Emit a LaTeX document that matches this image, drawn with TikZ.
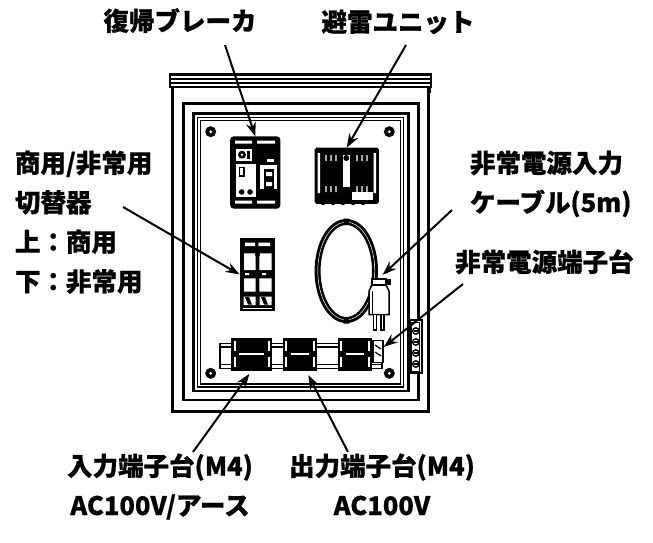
\documentclass[tikz,border=0pt]{standalone}
\usepackage{fontspec}
\newfontfamily\jpfont{Noto Sans CJK JP}[BoldFeatures={FakeBold=0.6}]
\usetikzlibrary{positioning, arrows.meta}
\tikzset {
    >={Stealth[length=14pt, width=10pt]},
    node distance=39.5pt,
    lbl/.style={font=\jpfont\bfseries\fontsize{25.5}{27}\selectfont, inner sep=0pt, text height=22pt, text depth=3pt},
    lblL/.style={lbl, text width=140pt, align=left},
    lblR/.style={lbl, text width=175pt, align=left},
    frame/.style={line width=2.4pt},
    part/.style={draw, fill=black, inner sep=0pt, line width=1.2pt},
    pointer/.style={->, line width=2pt}
}

\begin{document}
\begin{tikzpicture}[x=1pt, y=-1pt]
    \useasboundingbox (0,0) rectangle (653,543);
    \fill[white] (0,0) rectangle (653,543);

    % cabinet
    \draw[frame] (170,74.5) rectangle (431,87);
    \draw[line width=1.5pt] (170,79) -- (431,79) (170,83) -- (431,83);
    \draw[frame] (429.5,87) -- (429.5,93);
    \draw[frame] (172.5,87) -- (172.5,411.5) -- (428.5,411.5) -- (428.5,87);
    \draw[frame] (183.3,103.3) rectangle (418.3,400);
    \draw[frame] (193.3,113.3) rectangle (408.3,390.7);
    \draw[line width=1.6pt] (197.3,117.3) rectangle (403.3,386.7);
    \draw[line width=1.6pt] (200.3,120.3) rectangle (400.5,383.8);

    \foreach \x/\y in {210.7/131.7, 389.3/131.7, 210.7/373.3, 389.3/373.3} {
        \fill (\x,\y) circle (5.5);
        \fill[white] (\x,\y) circle (1.6);
    }

    % breaker
    \node[part, rounded corners=3pt, minimum width=49pt, minimum height=71pt] (brk) at (255.3,172.5) {};
    \fill[white] (235,140.5) rectangle (252,143.5) (257,140.5) rectangle (275,143.5);
    \fill[white] (235,200.5) rectangle (252,203.5) (257,200.5) rectangle (275,203.5);
    \fill[white] (235.5,149) rectangle (251.5,160.5);
    \fill (242,154.7) circle (4);
    \fill[white] (242,154.7) circle (1.3);
    \fill (246.5,151) rectangle (250,158.5);
    \fill[white] (266.5,159) rectangle (273.5,161.5);
    \fill[white] (236,163.5) rectangle (256,196.5);
    \draw[line width=1.4pt] (239.5,167.5) rectangle (244,176);
    \fill (241.7,192) circle (2.8) (250,192) circle (2.8);
    \fill[white] (260,165) rectangle (277,189);
    \fill (264,168.5) rectangle (274,193);
    \fill[white] (266,172) rectangle (272,176) (266,182) rectangle (272,186);

    % surge unit
    \node[part, rounded corners=1.5pt, minimum width=63pt, minimum height=55pt] (spd) at (346.7,175.8) {};
    \fill[white] (317.5,153) rectangle (320,193) (373.5,153) rectangle (376,193);
    \foreach \x in {326,331,336,357,362,367} {
        \fill[white] (\x-0.6,155) rectangle (\x+0.6,161) (\x-0.6,186) rectangle (\x+0.6,192);
    }
    \fill[white] (342.7,155) rectangle (350,186.7);
    \fill (346.3,158) circle (3);
    \fill[white] (352,191.5) rectangle (373,199.5);
    \foreach \x in {323,333,343,353,363} \fill (\x,203.3) circle (2);

    % selector switch
    \node[part, minimum width=34pt, minimum height=72pt] (sw) at (257.2,274.5) {};
    \fill[white] (245,242.7) rectangle (255,246) (258.3,242.7) rectangle (270,246);
    \fill[white] (244,253.3) rectangle (255.7,270) (259.3,253.3) rectangle (271.7,270);
    \fill (257.5,254.5) circle (2.5);
    \fill[white] (245,273) rectangle (249,275) (262,273) rectangle (266,275);
    \fill[white] (244,278.3) rectangle (255.7,291.7) (259.3,278.3) rectangle (271.7,291.7);
    \fill[white] (243.5,296.5) rectangle (255.5,305) (259.5,296.5) rectangle (271.5,305);
    \fill (245,297) -- (249,297) -- (252,304.5) -- (248,304.5) -- cycle;
    \fill (261,297) -- (265,297) -- (268,304.5) -- (264,304.5) -- cycle;
    \fill[white] (243,307.7) rectangle (271.5,309.2);

    % cable coil
    \draw[line width=6pt] (346.3,271) ellipse [x radius=28.7, y radius=49];
    \draw[white, line width=0.5pt] (346.3,271) ellipse [x radius=28.5, y radius=48.8];
    \fill (343.5,218.5) rectangle (349,224.5) (343.5,317.5) rectangle (349,323.5);

    % plug
    \draw[line width=1.5pt, fill=white] (372,285) -- (369,291) -- (369,314.5) -- (389,314.5) -- (389,291) -- (386,285) -- cycle;
    \draw[line width=1.4pt] (372.5,291) -- (372.5,314.5);
    \node[draw, fill=white, line width=1.5pt, minimum width=14pt, minimum height=6pt, inner sep=0pt] (plug) at (379,282) {};
    \fill (385,278.5) rectangle (390.5,285);
    \draw[line width=1.3pt, fill=white] (373.5,314.5) rectangle (376.5,330) (381,314.5) rectangle (384,330);

    % rail and terminal blocks
    \draw[line width=1.6pt, fill=white] (220,343.3) rectangle (381.7,368.3);
    \draw[line width=1.2pt] (220,347) -- (381.7,347) (220,364.5) -- (381.7,364.5);
    \foreach \n/\cx/\w in {tb1/251.7/40, tb2/300/33.4, tb3/355/33.4} {
        \node[part, minimum width=\w pt, minimum height=31.7pt] (\n) at (\cx,354.2) {};
        \fill[white] ([shift={(2.5,3)}]\n.north west) rectangle ([shift={(4.5,13)}]\n.north west);
        \fill[white] ([shift={(2.5,19)}]\n.north west) rectangle ([shift={(4.5,29)}]\n.north west);
        \fill[white] ([shift={(-2.5,3)}]\n.north east) rectangle ([shift={(-4.5,13)}]\n.north east);
        \fill[white] ([shift={(-2.5,19)}]\n.north east) rectangle ([shift={(-4.5,29)}]\n.north east);
        \fill[white] ([shift={(8,15)}]\n.north west) rectangle ([shift={(-8,17.5)}]\n.north east);
    }
    \node[draw, fill=white, line width=1.4pt, minimum width=10pt, minimum height=22pt, inner sep=0pt] (endt) at (378,351.5) {};
    \draw[line width=1.2pt] (375,345) -- (381,349) (375,352) -- (381,356);

    % side terminal strip
    \node[draw, fill=white, line width=1.8pt, minimum width=11.7pt, minimum height=53pt, inner sep=0pt] (etb) at (415.8,346.8) {};
    \draw[line width=1pt] (411.8,322.5) rectangle (419.8,371);
    \foreach \y in {331,342,353,364} {
        \draw[line width=1.4pt, fill=white] (415.8,\y) circle (3.2);
        \fill (414,\y-0.6) rectangle (417.6,\y+0.6);
    }

    % labels
    \node[lbl] (brkL) at (180,21) {復帰ブレーカ};
    \node[lbl] (spdL) at (398,22) {避雷ユニット};
    \node[lblL] (selA) at (85,163) {商用/非常用};
    \node[lblL, below of=selA] (selB) {切替器};
    \node[lblL, below of=selB] (selC) {上：商用};
    \node[lblL, below of=selC] (selD) {下：非常用};
    \node[lblR] (cabA) at (557.5,163) {非常電源入力};
    \node[lblR, below of=cabA] (cabB) {ケーブル(5m)};
    \node[lbl, anchor=west] (etbL) at (455,262) {非常電源端子台};
    \node[lbl] (inA) at (160,466) {入力端子台(M4)};
    \node[lbl, below of=inA] (inB) {AC100V/アース};
    \node[lbl] (outA) at (382,466) {出力端子台(M4)};
    \node[lbl, below of=outA] (outB) {AC100V};

    % pointers
    \coordinate (brkS) at (225,45);
    \coordinate (spdS) at (406,45);
    \coordinate (selS) at (123,207);
    \coordinate (cabS) at (452,210);
    \coordinate (etbS) at (463,284);
    \coordinate (inS) at (193,452);
    \coordinate (outS) at (348,452);

    \draw[pointer] (brkS) -- (brk.north);
    \draw[pointer] (spdS) -- (spd.north);
    \draw[pointer] (selS) -- (sw.west);
    \draw[pointer, shorten >=5pt] (cabS) -- (plug.north);
    \draw[pointer] (etbS) -- (endt);
    \draw[pointer, shorten >=4pt] (inS) -- (tb1.south);
    \draw[pointer, shorten >=5pt] (outS) -- ([xshift=6pt]tb2.south);
\end{tikzpicture}
\end{document}
